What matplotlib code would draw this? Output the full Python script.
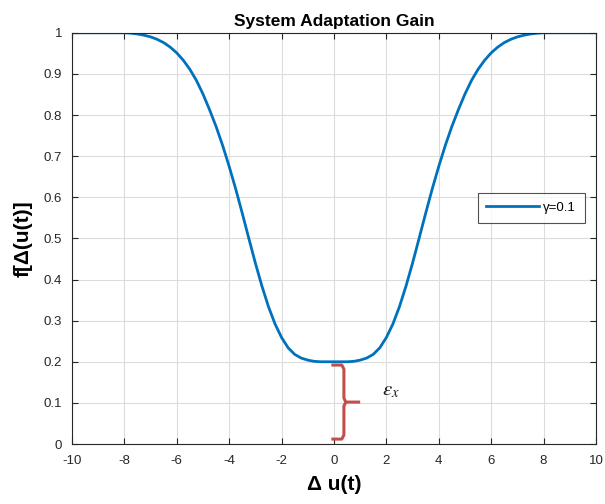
import matplotlib.pyplot as plt
import numpy as np

plt.rcParams['font.family'] = ['Liberation Sans', 'DejaVu Sans']
plt.rcParams['axes.unicode_minus'] = False
plt.rcParams['mathtext.fontset'] = 'stix'

# x samples (step 0.25) and gain values
delta_u = np.arange(-10, 10.001, 0.25)
gain_left = [  # -10 .. 0
    1.000, 1.000, 1.000, 1.000, 1.000, 1.000, 1.000, 1.000,
    1.000, 0.999, 0.997, 0.994, 0.990, 0.984, 0.976, 0.965,
    0.951, 0.933, 0.911, 0.884, 0.851, 0.813, 0.772, 0.726,
    0.675, 0.620, 0.561, 0.500, 0.440, 0.384, 0.334, 0.292,
    0.259, 0.234, 0.218, 0.209, 0.204, 0.201, 0.200, 0.200,
    0.200,
]
gain_right = [  # 0.25 .. 10
    0.200, 0.200, 0.201, 0.204, 0.209, 0.218, 0.234, 0.259,
    0.292, 0.334, 0.384, 0.440, 0.500, 0.561, 0.620, 0.675,
    0.726, 0.772, 0.813, 0.851, 0.884, 0.911, 0.933, 0.951,
    0.965, 0.976, 0.984, 0.990, 0.994, 0.997, 0.999, 1.000,
    1.000, 1.000, 1.000, 1.000, 1.000, 1.000, 1.000, 1.000,
]
gain = gain_left + gain_right

fig = plt.figure(figsize=(6.05, 5.04), dpi=100)
ax = fig.add_axes([0.119, 0.119, 0.866, 0.816])

ax.plot(delta_u, gain, color='#0072BD', linewidth=2, label='\u03b3=0.1')

# red brace marking epsilon_x
brace = '#C0504D'
ax.plot([-0.1, 0.3, 0.38, 0.38, 0.45, 1.0], [0.192, 0.192, 0.182, 0.112, 0.102, 0.102],
        color=brace, linewidth=2.2, solid_capstyle='butt')
ax.plot([-0.1, 0.3, 0.38, 0.38, 0.45], [0.012, 0.012, 0.022, 0.092, 0.102],
        color=brace, linewidth=2.2, solid_capstyle='butt')
ax.text(1.85, 0.118, r'$\varepsilon_x$', fontsize=15, color='#1a1a1a')

ax.set_xlim(-10, 10)
ax.set_ylim(0, 1)
ax.set_xticks(np.arange(-10, 11, 2))
ax.set_yticks(np.arange(0, 1.01, 0.1))
ax.set_yticklabels(['0', '0.1', '0.2', '0.3', '0.4', '0.5', '0.6', '0.7', '0.8', '0.9', '1'])
ax.tick_params(direction='in', top=True, right=True, labelsize=9.5, colors='#262626',
               length=4, width=0.8)
ax.tick_params(axis='x', pad=8)
ax.tick_params(axis='y', pad=7)
ax.grid(True, color='#DCDCDC', linewidth=0.8)
for s in ax.spines.values():
    s.set_color('#262626')
    s.set_linewidth(0.8)

ax.set_title('System Adaptation Gain', fontsize=12.5, fontweight='bold', pad=5)
ax.set_xlabel('\u0394 u(t)', fontsize=15, fontweight='bold', labelpad=6)
ax.set_ylabel('f[\u0394(u(t)]', fontsize=15, fontweight='bold', labelpad=8)

leg = ax.legend(loc='upper left', bbox_to_anchor=(0.762, 0.626), fontsize=9.5,
                frameon=True, fancybox=False, handlelength=4.0, borderpad=0.65,
                handletextpad=0.3)
leg.get_frame().set_edgecolor('#262626')
leg.get_frame().set_linewidth(0.8)

plt.savefig('out.png', dpi=100)
